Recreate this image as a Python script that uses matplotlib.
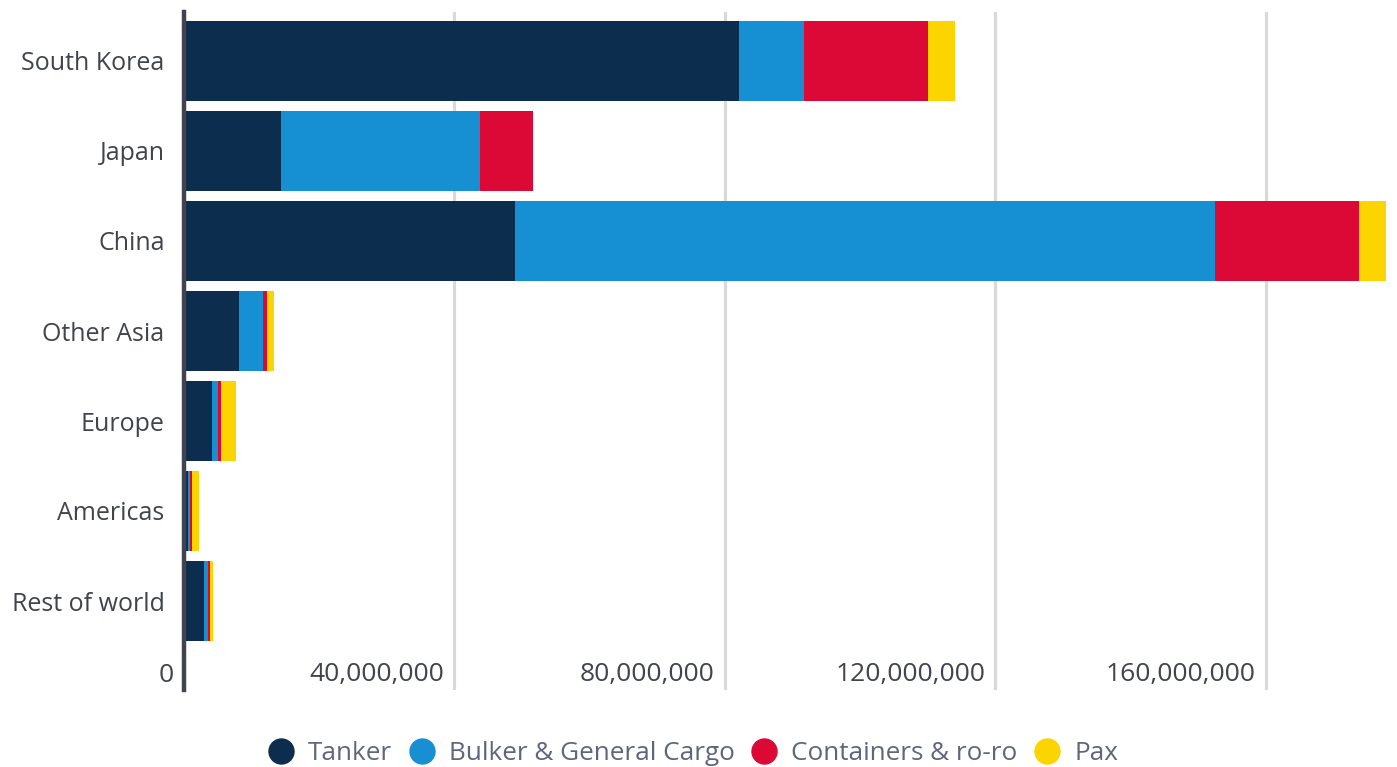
import matplotlib.pyplot as plt
import matplotlib.transforms as mtransforms
from matplotlib.lines import Line2D

plt.rcParams['font.family'] = ['Open Sans', 'DejaVu Sans']

regions = ["South Korea", "Japan", "China", "Other Asia", "Europe", "Americas", "Rest of world"]
series = ["Tanker", "Bulker & General Cargo", "Containers & ro-ro", "Pax"]

tanker = [82_100_000, 14_300_000, 48_900_000, 8_100_000, 4_100_000, 600_000, 3_000_000]
bulker = [9_600_000, 29_500_000, 103_600_000, 3_600_000, 900_000, 300_000, 600_000]
containers = [18_300_000, 7_800_000, 21_300_000, 600_000, 450_000, 300_000, 300_000]
pax = [4_000_000, 0, 4_000_000, 1_000_000, 2_200_000, 1_000_000, 450_000]

x_ticks = [0, 40_000_000, 80_000_000, 120_000_000, 160_000_000]
x_labels = [f"{t:,}" for t in x_ticks]

colors = ["#0c2d4e", "#1690d2", "#dc0836", "#fcd400"]
text_color = "#41444f"
legend_color = "#5f6580"

fig = plt.figure(figsize=(13.97, 7.67), dpi=100)
W, H = 1397, 767
left, right, top, bottom = 184, 1386, 12, 690
ax = fig.add_axes([left / W, 1 - bottom / H, (right - left) / W, (bottom - top) / H])

ypos = list(range(len(regions)))
stacks = [tanker, bulker, containers, pax]
base = [0] * len(regions)
for vals, col in zip(stacks, colors):
    ax.barh(ypos, vals, left=base, height=0.89, color=col, zorder=3)
    base = [b + v for b, v in zip(base, vals)]

ax.set_xlim(0, max(base))
ax.set_ylim((bottom - 61) / 90, -(61 - top) / 90)

# vertical gridlines
for t in x_ticks[1:]:
    ax.axvline(t, color="#d9d9d9", lw=2.3, zorder=1)

ax.set_xticks([])
ax.set_yticks(ypos)
ax.set_yticklabels(regions, fontsize=18, color=text_color)
ax.tick_params(axis="y", length=0, pad=14)

# tick labels sit inside the plot, right-aligned against each gridline
shift = mtransforms.ScaledTranslation(-10 / 100, 0, fig.dpi_scale_trans)
trans = mtransforms.blended_transform_factory(ax.transData, ax.transAxes) + shift
for t, lab in zip(x_ticks, x_labels):
    ax.text(t, 1 - (675 - top) / (bottom - top), lab, transform=trans,
            ha="right", va="center", fontsize=19, color=text_color)

for s in ["top", "right", "bottom"]:
    ax.spines[s].set_visible(False)
ax.spines["left"].set_linewidth(3.2)
ax.spines["left"].set_color(text_color)
ax.spines["left"].set_zorder(4)

handles = [Line2D([], [], marker="o", ls="", markersize=18, color=c) for c in colors]
leg = fig.legend(handles, series, loc="center", bbox_to_anchor=(693 / W, 1 - 754 / H),
                 ncol=4, frameon=False, fontsize=18.8, handletextpad=0.52,
                 columnspacing=0.65, handlelength=1.0)
for txt in leg.get_texts():
    txt.set_color(legend_color)

fig.savefig("out.png", dpi=100)
